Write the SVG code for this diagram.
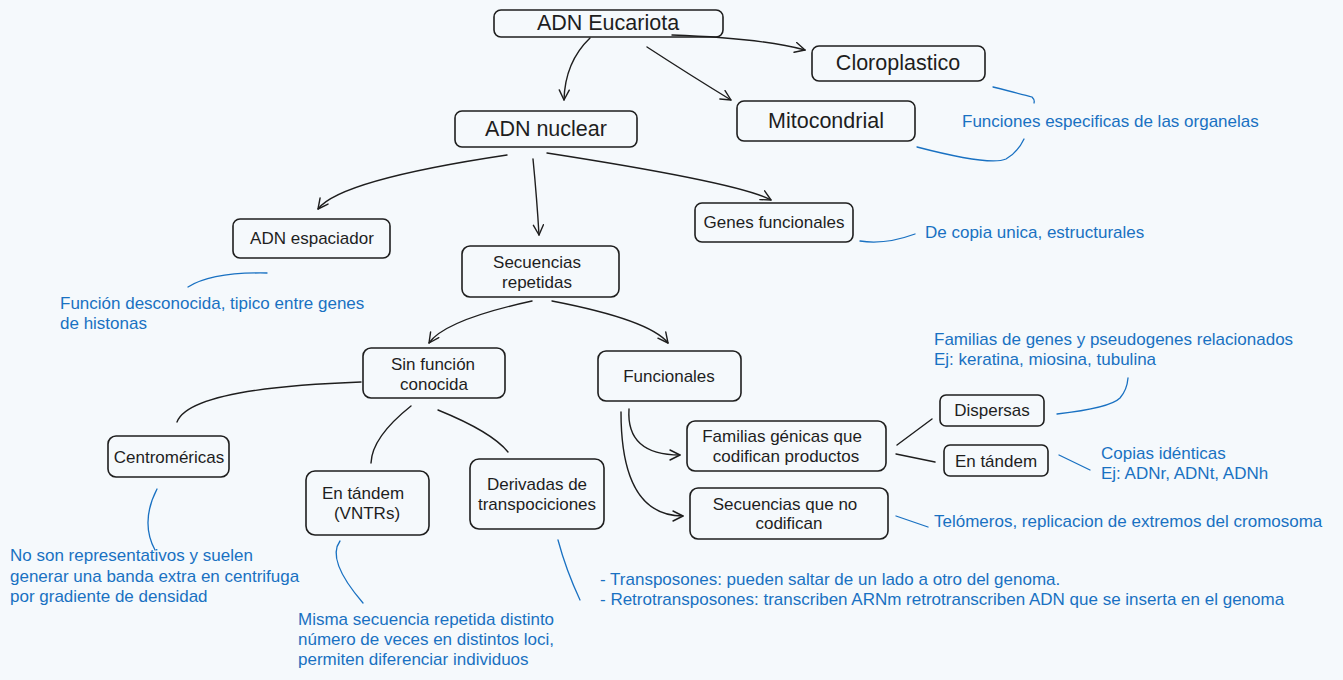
<svg xmlns="http://www.w3.org/2000/svg" width="1343" height="680" viewBox="0 0 1343 680">
<defs>
<marker id="arr" viewBox="0 0 12 12" refX="11" refY="6" markerWidth="12" markerHeight="12" markerUnits="userSpaceOnUse" orient="auto">
<path d="M1,1 L11,6 L1,11" fill="none" stroke="#1e1e1e" stroke-width="1.4" stroke-linecap="round" stroke-linejoin="round"/>
</marker>
<style>
.box{fill:none;stroke:#1e1e1e;stroke-width:1.6}
.t{font-family:"Liberation Sans",Arial,sans-serif;fill:#1e1e1e;text-anchor:middle;dominant-baseline:central}
.t16{font-size:17px}
.t20{font-size:21.5px}
.a{font-family:"Liberation Sans",Arial,sans-serif;fill:#1971c2;font-size:17px;dominant-baseline:central}
.c{fill:none;stroke:#1e1e1e;stroke-width:1.4;stroke-linecap:round}
.ca{marker-end:url(#arr)}
.b{fill:none;stroke:#1971c2;stroke-width:1.3;stroke-linecap:round}
</style>
</defs>
<rect width="1343" height="680" fill="#f5f9fc"/>

<g id="connectors">
<path class="c ca" d="M672 35 Q760 38 805 50"/>
<path class="c ca" d="M647 47 Q690 75 731 100"/>
<path class="c ca" d="M590 38 Q565 62 564 100"/>
<path class="c ca" d="M507 155 Q340 180 318 209"/>
<path class="c ca" d="M533 159 Q537 200 539 235"/>
<path class="c ca" d="M547 153 Q740 183 771 200"/>
<path class="c ca" d="M532 301 Q445 320 429 343"/>
<path class="c ca" d="M552 301 Q650 320 668 343"/>
<path class="c" d="M361 382 Q190 388 177 422"/>
<path class="c" d="M411 406 Q372 437 371 463"/>
<path class="c" d="M438 410 Q492 432 508 452"/>
<path class="c ca" d="M629 409 Q626 455 680 455"/>
<path class="c ca" d="M621 412 Q621 516 683 516"/>
<path class="c" d="M897 445 L932 419"/>
<path class="c" d="M896 454 L935 462"/>
</g>

<g id="annotation-lines">
<path class="b" d="M993 87 Q1025 95 1032 97 Q1035 100 1034 103"/>
<path class="b" d="M917 147 Q990 166 1006 159 Q1018 152 1024 139"/>
<path class="b" d="M860 241 Q885 245 915 234"/>
<path class="b" d="M188 287 Q212 272 267 273"/>
<path class="b" d="M1057 414 Q1110 408 1120 398 Q1127 390 1128 378"/>
<path class="b" d="M1059 455 L1090 470"/>
<path class="b" d="M896 516 L928 527"/>
<path class="b" d="M157 489 Q140 522 155 550"/>
<path class="b" d="M340 541 Q326 560 363 603"/>
<path class="b" d="M558 540 Q566 570 580 600"/>
</g>

<g id="n-eucariota"><rect class="box" x="494" y="10" width="229" height="27" rx="7"/><text class="t t20" x="608" y="23">ADN Eucariota</text></g>
<g id="n-cloroplastico"><rect class="box" x="812" y="46" width="173" height="35" rx="7"/><text class="t t20" x="898" y="63">Cloroplastico</text></g>
<g id="n-mitocondrial"><rect class="box" x="737" y="101" width="178" height="40" rx="7"/><text class="t t20" x="826" y="121">Mitocondrial</text></g>
<g id="n-nuclear"><rect class="box" x="455" y="111" width="182" height="36" rx="7"/><text class="t t20" x="546" y="129">ADN nuclear</text></g>
<g id="n-espaciador"><rect class="box" x="233" y="219" width="157" height="39" rx="7"/><text class="t t16" x="312" y="238">ADN espaciador</text></g>
<g id="n-genes"><rect class="box" x="695" y="203" width="158" height="39" rx="7"/><text class="t t16" x="774" y="222">Genes funcionales</text></g>
<g id="n-secuencias"><rect class="box" x="462" y="246" width="157" height="51" rx="8"/><text class="t t16" x="537" y="262">Secuencias</text><text class="t t16" x="537" y="282">repetidas</text></g>
<g id="n-sinfuncion"><rect class="box" x="363" y="348" width="142" height="50" rx="8"/><text class="t t16" x="433" y="364">Sin función</text><text class="t t16" x="434" y="384">conocida</text></g>
<g id="n-funcionales"><rect class="box" x="598" y="351" width="143" height="50" rx="8"/><text class="t t16" x="669" y="376">Funcionales</text></g>
<g id="n-centromericas"><rect class="box" x="108" y="436" width="121" height="41" rx="8"/><text class="t t16" x="169" y="457">Centroméricas</text></g>
<g id="n-vntrs"><rect class="box" x="306" y="471" width="123" height="64" rx="9"/><text class="t t16" x="363" y="493">En tándem</text><text class="t t16" x="367" y="513">(VNTRs)</text></g>
<g id="n-derivadas"><rect class="box" x="470" y="459" width="134" height="70" rx="9"/><text class="t t16" x="537" y="484">Derivadas de</text><text class="t t16" x="537" y="504">transpociciones</text></g>
<g id="n-familias"><rect class="box" x="687" y="421" width="199" height="50" rx="8"/><text class="t t16" x="782" y="436">Familias génicas que</text><text class="t t16" x="786" y="456">codifican productos</text></g>
<g id="n-nocodif"><rect class="box" x="690" y="488" width="198" height="51" rx="8"/><text class="t t16" x="785" y="504">Secuencias que no</text><text class="t t16" x="789" y="523">codifican</text></g>
<g id="n-dispersas"><rect class="box" x="940" y="395" width="104" height="31" rx="6"/><text class="t t16" x="992" y="410">Dispersas</text></g>
<g id="n-entandem"><rect class="box" x="944" y="445" width="104" height="31" rx="6"/><text class="t t16" x="996" y="461">En tándem</text></g>

<g id="annotations">
<text class="a" x="962" y="121">Funciones especificas de las organelas</text>
<text class="a" x="925" y="232">De copia unica, estructurales</text>
<text class="a" x="60" y="303">Función desconocida, tipico entre genes</text>
<text class="a" x="60" y="323">de histonas</text>
<text class="a" x="934" y="339">Familias de genes y pseudogenes relacionados</text>
<text class="a" x="934" y="359">Ej: keratina, miosina, tubulina</text>
<text class="a" x="1101" y="453">Copias idénticas</text>
<text class="a" x="1101" y="473">Ej: ADNr, ADNt, ADNh</text>
<text class="a" x="934" y="521">Telómeros, replicacion de extremos del cromosoma</text>
<text class="a" x="10" y="555">No son representativos y suelen</text>
<text class="a" x="10" y="576">generar una banda extra en centrifuga</text>
<text class="a" x="10" y="596">por gradiente de densidad</text>
<text class="a" x="298" y="619">Misma secuencia repetida distinto</text>
<text class="a" x="298" y="639">número de veces en distintos loci,</text>
<text class="a" x="298" y="659">permiten diferenciar individuos</text>
<text class="a" x="600" y="579">- Transposones: pueden saltar de un lado a otro del genoma.</text>
<text class="a" x="600" y="599">- Retrotransposones: transcriben ARNm retrotranscriben ADN que se inserta en el genoma</text>
</g>
</svg>
